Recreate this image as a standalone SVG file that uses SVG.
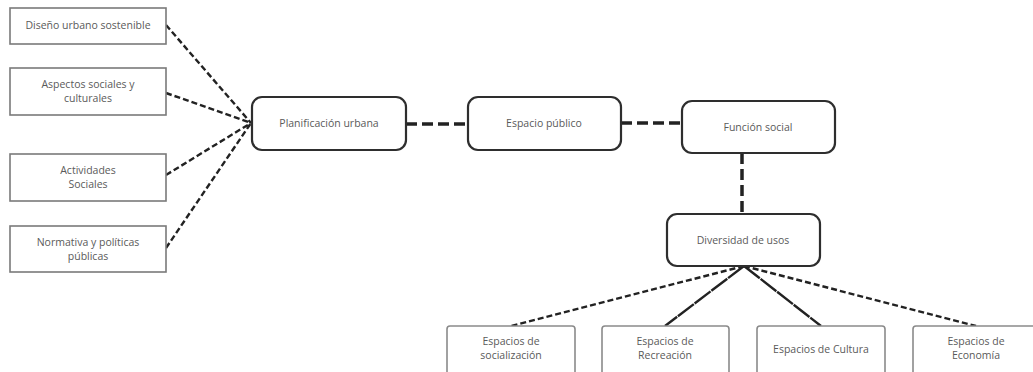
<svg xmlns="http://www.w3.org/2000/svg" width="1033" height="372" viewBox="0 0 1033 372">
<style>
.bg{fill:#ffffff}
.sq{fill:#fff;stroke:#7a7a7a;stroke-width:1.6}
.rd{fill:#fff;stroke:#2e2e2e;stroke-width:2.2}
.bt{fill:#fff;stroke:#8a8a8a;stroke-width:1.6}
text{font-family:"Open Sans","Noto Sans","DejaVu Sans",sans-serif;font-size:10.5px;fill:#5a5a5a;text-anchor:middle}
.fan{stroke:#222;stroke-width:2.4;stroke-dasharray:6 3;fill:none}
.main{stroke:#222;stroke-width:3.5;stroke-dasharray:11 5;fill:none}
.near{stroke:#222;stroke-width:2.4;stroke-dasharray:20 1;fill:none}
</style>
<rect class="bg" x="0" y="0" width="1033" height="372"/>
<g id="connectors">
<line class="fan" x1="166" y1="25" x2="251" y2="123"/>
<line class="fan" x1="166" y1="93" x2="251" y2="123"/>
<line class="fan" x1="166" y1="175" x2="251" y2="123"/>
<line class="fan" x1="166" y1="248" x2="251" y2="123"/>
<line class="main" x1="406" y1="124" x2="468" y2="124"/>
<line class="main" x1="621" y1="123" x2="682" y2="123"/>
<line class="main" x1="742" y1="153" x2="742" y2="214"/>
<line class="fan" x1="744" y1="266" x2="511" y2="326"/>
<line class="near" x1="744" y1="266" x2="665" y2="326"/>
<line class="near" x1="744" y1="266" x2="821" y2="326"/>
<line class="fan" x1="744" y1="266" x2="976" y2="326"/>
</g>
<g id="n-diseno"><rect class="sq" x="10" y="8" width="156" height="36"/><text x="88" y="29">Diseño urbano sostenible</text></g>
<g id="n-aspectos"><rect class="sq" x="10" y="68" width="156" height="47"/><text x="88" y="88">Aspectos sociales y</text><text x="88" y="102">culturales</text></g>
<g id="n-actividades"><rect class="sq" x="10" y="154" width="156" height="47"/><text x="88" y="174">Actividades</text><text x="88" y="188">Sociales</text></g>
<g id="n-normativa"><rect class="sq" x="10" y="226" width="156" height="46"/><text x="88" y="246">Normativa y políticas</text><text x="88" y="260">públicas</text></g>
<g id="n-planificacion"><rect class="rd" x="252" y="97" width="154" height="53" rx="10"/><text x="329" y="127">Planificación urbana</text></g>
<g id="n-espacio"><rect class="rd" x="468" y="97" width="153" height="53" rx="10"/><text x="544" y="127">Espacio público</text></g>
<g id="n-funcion"><rect class="rd" x="682" y="101" width="153" height="52" rx="10"/><text x="758" y="131">Función social</text></g>
<g id="n-diversidad"><rect class="rd" x="667" y="214" width="153" height="52" rx="10"/><text x="743" y="244">Diversidad de usos</text></g>
<g id="n-socializacion"><rect class="bt" x="447" y="326" width="128" height="52" rx="3"/><text x="511" y="345">Espacios de</text><text x="511" y="359">socialización</text></g>
<g id="n-recreacion"><rect class="bt" x="602" y="326" width="127" height="52" rx="3"/><text x="665" y="345">Espacios de</text><text x="665" y="359">Recreación</text></g>
<g id="n-cultura"><rect class="bt" x="757" y="326" width="128" height="52" rx="3"/><text x="821" y="353">Espacios de Cultura</text></g>
<g id="n-economia"><rect class="bt" x="913" y="326" width="128" height="52" rx="3"/><text x="976" y="345">Espacios de</text><text x="976" y="359">Economía</text></g>
</svg>
